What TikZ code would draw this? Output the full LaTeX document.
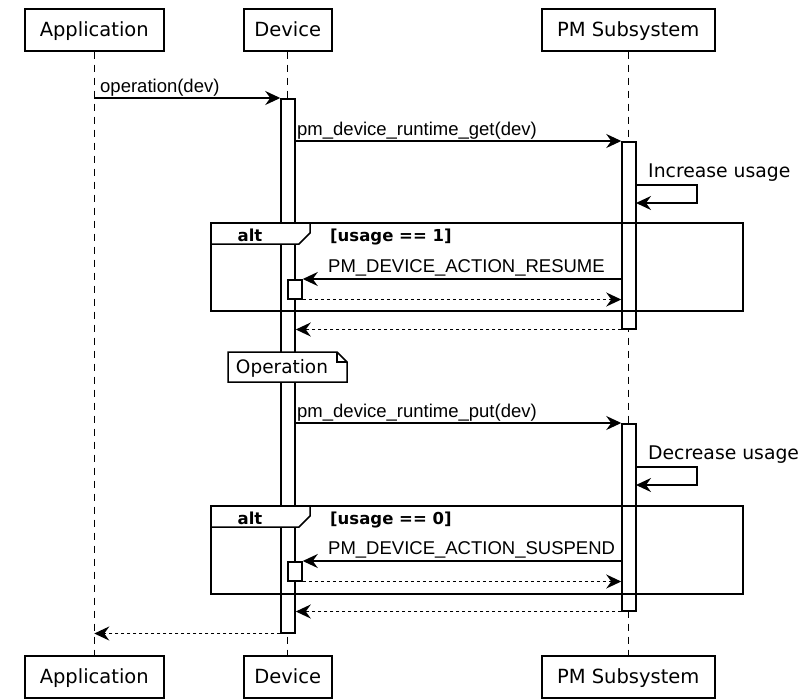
\documentclass[tikz,border=0pt]{standalone}
\usepackage{fontspec}
\setmainfont{DejaVu Sans}
\newfontfamily\msgfont{Liberation Sans}
\usetikzlibrary{arrows.meta}
\begin{document}
\begin{tikzpicture}[x=1pt,y=-1pt,
  part/.style={draw, line width=1.5pt, fill=white, minimum height=42pt, inner sep=0pt,
    text height=16.5pt, text depth=4pt,
    font=\fontsize{19.5}{22}\selectfont, anchor=north west},
  lifeline/.style={line width=1.3pt, dash pattern=on 7pt off 6pt},
  actbar/.style={draw, line width=1.5pt, fill=white, minimum width=14pt, inner sep=0pt, anchor=north},
  msg/.style={line width=1.5pt, -{Stealth[length=15pt,width=14pt,inset=5pt]}},
  ret/.style={msg, dash pattern=on 3pt off 3pt},
  lbl/.style={font=\msgfont\fontsize{18.5}{21}\selectfont, anchor=base west, inner sep=0pt},
  dlbl/.style={font=\fontsize{18.8}{21}\selectfont, anchor=base west, inner sep=0pt},
  frm/.style={draw, line width=1.5pt},
  frmlbl/.style={font=\bfseries\fontsize{16.5}{19}\selectfont, anchor=base, inner sep=0pt},
  condlbl/.style={font=\bfseries\fontsize{16.5}{19}\selectfont, anchor=base west, inner sep=0pt}
]
\useasboundingbox (0,0) rectangle (810,699);

% participants
\node[part, minimum width=139pt] (appT) at (24,8) {Application};
\node[part, minimum width=88pt] (devT) at (243,8) {Device};
\node[part, minimum width=173pt] (pmT) at (541,8) {PM Subsystem};
\node[part, minimum width=139pt] (appB) at (24,655) {Application};
\node[part, minimum width=88pt] (devB) at (243,655) {Device};
\node[part, minimum width=173pt] (pmB) at (541,655) {PM Subsystem};

% lifelines
\draw[lifeline] (appT.south) -- (appB.north);
\draw[lifeline] (devT.south) -- (devB.north);
\draw[lifeline] (pmT.south) -- (pmB.north);

% activation bars
\node[actbar, minimum height=534pt] (devbar) at (288,98) {};
\node[actbar, minimum height=187pt] (pmbar1) at (629,141) {};
\node[actbar, minimum height=187pt] (pmbar2) at (629,423) {};

% alt frames
\draw[frm] (211,223) rectangle (743,311);
\draw[frm, fill=white] (211,223) -- (310,223) -- (310,233) -- (299,244) -- (211,244) -- cycle;
\node[frmlbl] (alt1) at (250,241) {alt};
\node[condlbl] (cond1) at (330,241) {[usage == 1]};

\draw[frm] (211,506) rectangle (743,594);
\draw[frm, fill=white] (211,506) -- (310,506) -- (310,516) -- (299,527) -- (211,527) -- cycle;
\node[frmlbl] (alt2) at (250,524) {alt};
\node[condlbl] (cond2) at (330,524) {[usage == 0]};

% small activation boxes
\node[actbar, minimum height=19pt] (act1) at (295,279) {};
\node[actbar, minimum height=19pt] (act2) at (295,561) {};

% messages
\draw[msg] (appT.south |- devbar.north) -- (devbar.north west);
\node[lbl] (l1) at (100,92) {operation(dev)};

\draw[msg] (devbar.east |- pmbar1.north) -- (pmbar1.north west);
\node[lbl] (l2) at (297,135) {pm\_device\_runtime\_get(dev)};

\coordinate (s1a) at (636,185);
\coordinate (s1b) at (636,203);
\draw[msg] (s1a) -- ++(61,0) -- ++(0,18) -- (s1b);
\node[dlbl] (l3) at (648,177) {Increase usage};

\draw[msg] (pmbar1.west |- act1.north) -- (act1.north east);
\node[lbl] (l4) at (328,272) {PM\_DEVICE\_ACTION\_RESUME};
\draw[ret] (act1.south east) -- (pmbar1.west |- act1.south);

\draw[ret] (pmbar1.south west) -- (devbar.east |- pmbar1.south);

% note
\draw[frm, fill=white] (228,352) -- (337,352) -- (347,362) -- (347,382) -- (228,382) -- cycle;
\draw[line width=1.2pt] (337,352) -- (337,362) -- (347,362);
\node[font=\fontsize{18.5}{21}\selectfont, inner sep=0pt] (note) at (282,368) {Operation};

\draw[msg] (devbar.east |- pmbar2.north) -- (pmbar2.north west);
\node[lbl] (l5) at (297,417) {pm\_device\_runtime\_put(dev)};

\coordinate (s2a) at (636,467);
\coordinate (s2b) at (636,485);
\draw[msg] (s2a) -- ++(61,0) -- ++(0,18) -- (s2b);
\node[dlbl] (l6) at (648,459) {Decrease usage};

\draw[msg] (pmbar2.west |- act2.north) -- (act2.north east);
\node[lbl] (l7) at (328,554) {PM\_DEVICE\_ACTION\_SUSPEND};
\draw[ret] (act2.south east) -- (pmbar2.west |- act2.south);

\draw[ret] (pmbar2.south west) -- (devbar.east |- pmbar2.south);

\draw[ret] (devbar.south west) -- (appT.south |- devbar.south);
\end{tikzpicture}
\end{document}
